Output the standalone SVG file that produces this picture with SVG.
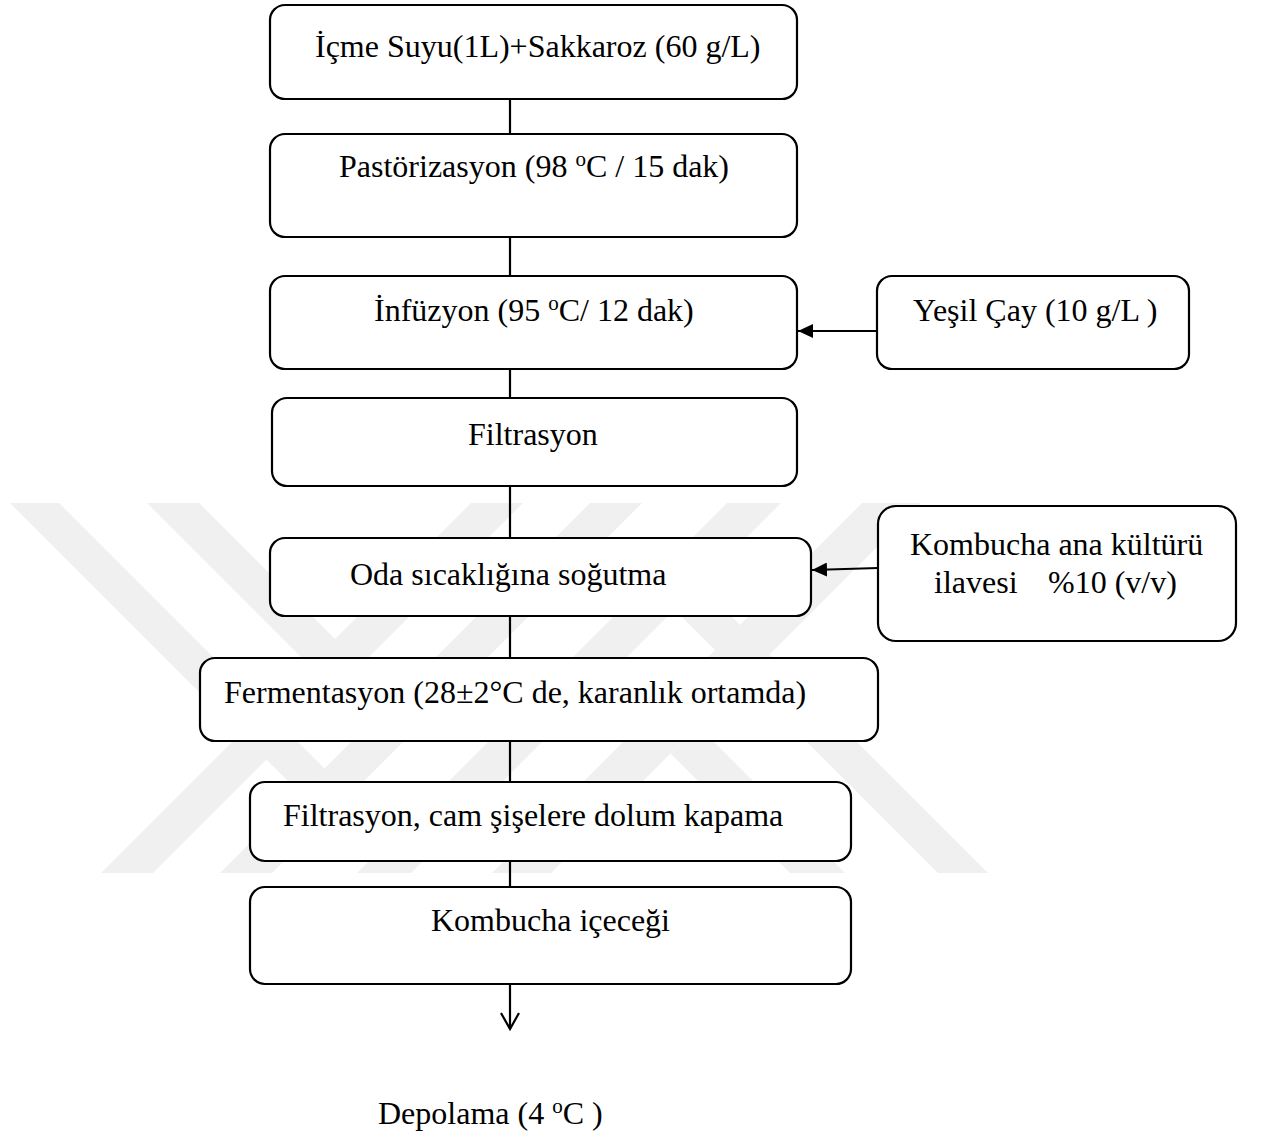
<svg xmlns="http://www.w3.org/2000/svg" width="1262" height="1138" viewBox="0 0 1262 1138">
  <style>
    .box { fill: #ffffff; stroke: #000000; stroke-width: 2.2; }
    .lbl { font-family: "Liberation Serif", "Times New Roman", serif; font-size: 32px; fill: #000000; }
    .sup { font-size: 21px; }
    .wire { fill: none; stroke: #000000; stroke-width: 2.2; }
    .mark { fill: #f0f0f0; stroke: none; }
  </style>
  <defs>
    <marker id="head" markerUnits="userSpaceOnUse" markerWidth="16" markerHeight="14" refX="15" refY="7" orient="auto">
      <path d="M0,0 L15,7 L0,14 Z" fill="#000000"/>
    </marker>
  </defs>

  <rect width="1262" height="1138" fill="#ffffff"/>

  <!-- faint background emblem made of 45-degree bands -->
  <g id="emblem">
    <polygon class="mark" points="471,503 523,503 153,873 101,873"/>
    <polygon class="mark" points="590,503 642,503 272,873 220,873"/>
    <polygon class="mark" points="10,503 59,503 324.5,768.5 300,793"/>
    <polygon class="mark" points="147,503 199,503 335,639 309,665"/>
    <polygon class="mark" points="727,503 781,503 411,873 357,873"/>
    <polygon class="mark" points="862,503 921,503 551,873 492,873"/>
    <polygon class="mark" points="698,726 845,873 790,873 670.5,753.5"/>
    <polygon class="mark" points="699.5,584.5 988,873 938,873 674.5,609.5"/>
  </g>

  <!-- connectors -->
  <g id="connectors">
    <line class="wire" x1="510" y1="99" x2="510" y2="134"/>
    <line class="wire" x1="510" y1="237" x2="510" y2="276"/>
    <line class="wire" x1="510" y1="369" x2="510" y2="398"/>
    <line class="wire" x1="510" y1="486" x2="510" y2="538"/>
    <line class="wire" x1="510" y1="616" x2="510" y2="658"/>
    <line class="wire" x1="510" y1="741" x2="510" y2="782"/>
    <line class="wire" x1="510" y1="861" x2="510" y2="887"/>
    <line class="wire" x1="510" y1="984" x2="510" y2="1029"/>
    <polyline class="wire" points="501,1013 510,1029 519,1013"/>
    <line class="wire" x1="877" y1="331" x2="798" y2="331" marker-end="url(#head)"/>
    <line class="wire" x1="878" y1="568" x2="812" y2="570" marker-end="url(#head)"/>
  </g>

  <g id="n-water">
    <rect class="box" x="270" y="5" width="527" height="94" rx="15"/>
    <text class="lbl" x="315" y="57">İçme Suyu(1L)+Sakkaroz (60 g/L)</text>
  </g>

  <g id="n-pasteurize">
    <rect class="box" x="270" y="134" width="527" height="103" rx="15"/>
    <text class="lbl" x="339" y="177">Pastörizasyon (98 <tspan class="sup" dy="-11">o</tspan><tspan dy="11">C / 15 dak)</tspan></text>
  </g>

  <g id="n-infusion">
    <rect class="box" x="270" y="276" width="527" height="93" rx="15"/>
    <text class="lbl" x="374" y="321">İnfüzyon (95 <tspan class="sup" dy="-11">o</tspan><tspan dy="11">C/ 12 dak)</tspan></text>
  </g>

  <g id="n-greentea">
    <rect class="box" x="877" y="276" width="312" height="93" rx="15"/>
    <text class="lbl" x="913" y="321">Yeşil Çay (10 g/L )</text>
  </g>

  <g id="n-filter">
    <rect class="box" x="272" y="398" width="525" height="88" rx="15"/>
    <text class="lbl" x="468" y="445">Filtrasyon</text>
  </g>

  <g id="n-cool">
    <rect class="box" x="270" y="538" width="541" height="78" rx="15"/>
    <text class="lbl" x="350" y="585">Oda sıcaklığına soğutma</text>
  </g>

  <g id="n-culture">
    <rect class="box" x="878" y="506" width="358" height="135" rx="18"/>
    <text class="lbl" x="910" y="555">Kombucha ana kültürü</text>
    <text class="lbl" y="593"><tspan x="934">ilavesi</tspan><tspan x="1048">%10 (v/v)</tspan></text>
  </g>

  <g id="n-ferment">
    <rect class="box" x="200" y="658" width="678" height="83" rx="15"/>
    <text class="lbl" x="224" y="703">Fermentasyon (28±2°C de, karanlık ortamda)</text>
  </g>

  <g id="n-bottling">
    <rect class="box" x="250" y="782" width="601" height="79" rx="15"/>
    <text class="lbl" x="283" y="826">Filtrasyon, cam şişelere dolum kapama</text>
  </g>

  <g id="n-drink">
    <rect class="box" x="250" y="887" width="601" height="97" rx="15"/>
    <text class="lbl" x="431" y="931">Kombucha içeceği</text>
  </g>

  <g id="n-storage">
    <text class="lbl" x="378" y="1124">Depolama (4 <tspan class="sup" dy="-11">o</tspan><tspan dy="11">C )</tspan></text>
  </g>
</svg>
